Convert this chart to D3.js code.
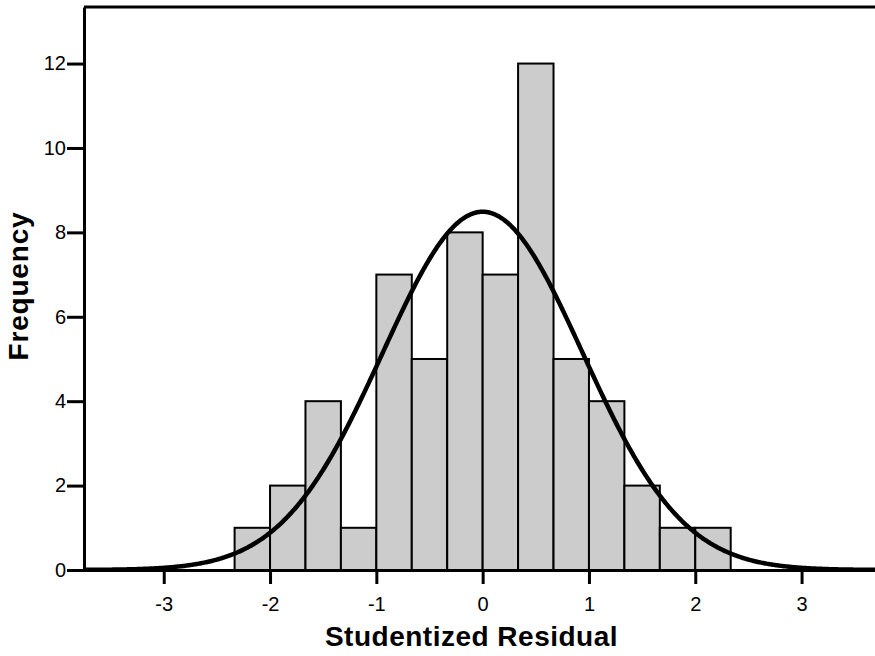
<!DOCTYPE html>
<html>
<head>
<meta charset="utf-8">
<script src="https://cdn.jsdelivr.net/npm/d3@7/dist/d3.min.js"></script>
<style>
  html, body { margin: 0; padding: 0; background: #fff; }
  svg { display: block; font-family: Arial, "Liberation Sans", Helvetica, sans-serif; }
</style>
</head>
<body>
<svg id="chart" width="875" height="656"></svg>
<script>
// Histogram bins of studentized residuals (bin width 1/3)
const binEdges = [-7, -6, -5, -4, -3, -2, -1, 0, 1, 2, 3, 4, 5, 6, 7].map(k => k / 3);
const binCounts = [1, 2, 4, 1, 7, 5, 8, 7, 12, 5, 4, 2, 1, 1];

// Fitted normal curve parameters
const fitMean = 0;
const fitSd = 0.94;

// Axis ticks
const xTicks = [-3, -2, -1, 0, 1, 2, 3];
const yTicks = [0, 2, 4, 6, 8, 10, 12];

const xLabel = "Studentized Residual";
const yLabel = "Frequency";

const svg = d3.select("#chart");
const plotLeft = 84, plotRight = 881.3, plotTop = 7, plotBottom = 570;
const fontStack = "Arial, 'Liberation Sans', Helvetica, sans-serif";

const x = d3.scaleLinear().domain([-3.75, 3.75]).range([plotLeft, plotRight]);
const y = d3.scaleLinear().domain([0, 13.34]).range([plotBottom, plotTop]);

const bins = binCounts.map((c, i) => ({ x0: binEdges[i], x1: binEdges[i + 1], count: c }));
const total = d3.sum(binCounts);
const binWidth = binEdges[1] - binEdges[0];

// Bars
svg.append("g").selectAll("rect")
  .data(bins)
  .join("rect")
  .attr("x", d => x(d.x0))
  .attr("y", d => y(d.count))
  .attr("width", d => x(d.x1) - x(d.x0))
  .attr("height", d => y(0) - y(d.count))
  .attr("fill", "#cccccc")
  .attr("stroke", "#000")
  .attr("stroke-width", 2);

// Normal density scaled to counts
const density = v => total * binWidth / (fitSd * Math.sqrt(2 * Math.PI)) *
  Math.exp(-((v - fitMean) ** 2) / (2 * fitSd * fitSd));
const curvePts = d3.range(-3.75, 3.7501, 0.01);
svg.append("path")
  .datum(curvePts)
  .attr("fill", "none")
  .attr("stroke", "#000")
  .attr("stroke-width", 4.5)
  .attr("stroke-linejoin", "round")
  .attr("d", d3.line().x(v => x(v)).y(v => y(density(v))));

// Top frame line
svg.append("line")
  .attr("x1", plotLeft).attr("x2", 875)
  .attr("y1", plotTop).attr("y2", plotTop)
  .attr("stroke", "#000").attr("stroke-width", 3);

// X axis
const xAxis = svg.append("g")
  .attr("transform", `translate(0,${plotBottom})`)
  .call(d3.axisBottom(x).tickValues(xTicks).tickFormat(d => String(d))
    .tickSize(14).tickPadding(13).tickSizeOuter(0));
xAxis.attr("font-size", null).attr("font-family", null);
xAxis.select(".domain").attr("stroke-width", 3);
xAxis.selectAll(".tick line").attr("stroke-width", 3);
xAxis.selectAll("text").style("font-size", "20px").style("font-family", fontStack).attr("fill", "#000");

// Y axis
const yAxis = svg.append("g")
  .attr("transform", `translate(${plotLeft},0)`)
  .call(d3.axisLeft(y).tickValues(yTicks).tickFormat(d => String(d))
    .tickSize(17).tickPadding(1).tickSizeOuter(0));
yAxis.attr("font-size", null).attr("font-family", null);
yAxis.select(".domain").attr("stroke-width", 3);
yAxis.selectAll(".tick line").attr("stroke-width", 3);
yAxis.selectAll("text").style("font-size", "20px").style("font-family", fontStack).attr("fill", "#000");

// Axis titles
svg.append("text")
  .attr("x", 471.5).attr("y", 646)
  .attr("text-anchor", "middle")
  .style("font-size", "28px").style("font-weight", "bold").style("letter-spacing", "0.5px")
  .text(xLabel);

svg.append("text")
  .attr("transform", "translate(28,286) rotate(-90)")
  .attr("text-anchor", "middle")
  .style("font-size", "28px").style("font-weight", "bold").style("letter-spacing", "0.8px")
  .text(yLabel);
</script>
</body>
</html>
